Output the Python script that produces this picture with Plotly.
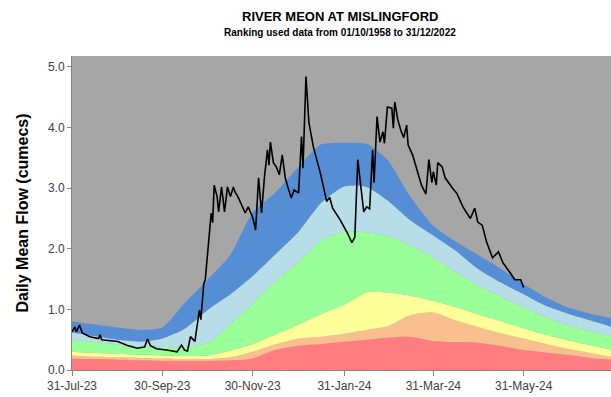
import plotly.graph_objects as go
import pandas as pd

# Percentile band boundaries (cumecs), semi-monthly through the water year
band_dates = [
    "2023-07-31", "2023-08-15", "2023-08-31", "2023-09-15", "2023-09-30",
    "2023-10-15", "2023-10-31", "2023-11-15", "2023-11-30", "2023-12-15",
    "2023-12-31", "2024-01-15", "2024-01-31", "2024-02-15", "2024-02-29",
    "2024-03-15", "2024-03-31", "2024-04-15", "2024-04-30", "2024-05-15",
    "2024-05-31", "2024-06-15", "2024-06-30", "2024-07-15", "2024-07-31",
]
exceptionally_low = [0.19, 0.18, 0.17, 0.16, 0.15, 0.15, 0.15, 0.16, 0.19, 0.33,
                     0.40, 0.43, 0.47, 0.50, 0.53, 0.55, 0.48, 0.46, 0.45, 0.40,
                     0.33, 0.29, 0.25, 0.20, 0.17]
notably_low = [0.24, 0.22, 0.21, 0.20, 0.19, 0.18, 0.18, 0.21, 0.30, 0.42,
               0.52, 0.55, 0.60, 0.66, 0.72, 0.90, 0.95, 0.82, 0.71, 0.61,
               0.52, 0.43, 0.35, 0.28, 0.21]
below_normal = [0.30, 0.28, 0.27, 0.25, 0.24, 0.23, 0.24, 0.32, 0.43, 0.58,
                0.75, 0.92, 1.08, 1.28, 1.28, 1.23, 1.14, 1.04, 0.92, 0.81,
                0.69, 0.58, 0.49, 0.41, 0.33]
normal = [0.50, 0.46, 0.42, 0.39, 0.38, 0.38, 0.45, 0.75, 1.10, 1.45,
          1.78, 2.13, 2.28, 2.27, 2.22, 2.06, 1.85, 1.62, 1.40, 1.22,
          1.03, 0.87, 0.74, 0.64, 0.55]
above_normal = [0.62, 0.56, 0.50, 0.47, 0.52, 0.68, 1.00, 1.25, 1.55, 1.90,
                2.28, 2.75, 3.03, 3.02, 2.80, 2.48, 2.22, 1.97, 1.67, 1.45,
                1.25, 1.06, 0.93, 0.82, 0.70]
notably_high = [0.80, 0.75, 0.70, 0.66, 0.70, 1.10, 1.50, 1.90, 2.60, 2.92,
                3.35, 3.72, 3.75, 3.73, 3.47, 2.88, 2.38, 2.12, 1.90, 1.68,
                1.42, 1.20, 1.03, 0.93, 0.85]

# Daily mean flow record (day offset from 31-Jul-23, cumecs)
flow_days = [0, 2, 3, 5, 7, 12, 18, 19, 20, 26, 31, 37, 44, 49, 51, 53, 57, 64,
             71, 74, 76, 78, 80, 83, 85, 86, 87, 88, 89, 90, 92, 94, 95, 96, 98,
             99, 101, 102, 103, 105, 107, 109, 110, 112, 115, 117, 119, 122, 124,
             126, 128, 130, 132, 133, 134, 136, 138, 140, 142, 144, 146, 148, 150,
             153, 155, 156, 158, 160, 163, 168, 172, 174, 176, 181, 186, 189, 191,
             193, 197, 199, 201, 203, 204, 205, 206, 208, 210, 211, 213, 216, 217,
             218, 220, 222, 224, 226, 227, 230, 233, 236, 239, 241, 243, 244, 246,
             247, 250, 252, 257, 260, 264, 269, 272, 274, 277, 280, 282, 284, 288,
             291, 296, 299, 303, 305]
flow_values = [0.63, 0.71, 0.63, 0.74, 0.61, 0.55, 0.52, 0.58, 0.50, 0.48, 0.47,
               0.41, 0.36, 0.38, 0.51, 0.40, 0.35, 0.33, 0.30, 0.41, 0.33, 0.31,
               0.55, 0.47, 0.77, 0.99, 0.83, 1.16, 1.43, 1.49, 1.98, 2.59, 2.43,
               3.05, 2.86, 2.61, 3.02, 2.75, 2.61, 3.02, 2.86, 3.02, 2.94, 2.86,
               2.69, 2.59, 2.69, 2.52, 2.31, 3.17, 2.59, 3.19, 3.63, 3.38, 3.76,
               3.42, 3.35, 3.22, 3.55, 3.17, 3.00, 2.84, 2.97, 2.92, 3.85, 3.33,
               4.84, 4.08, 3.68, 3.22, 2.78, 2.85, 2.67, 2.48, 2.26, 2.10, 2.19,
               3.47, 2.61, 2.69, 2.66, 3.63, 3.09, 3.68, 4.18, 3.76, 3.93, 3.74,
               4.34, 4.32, 3.99, 4.42, 4.13, 3.96, 3.83, 4.04, 3.71, 3.55, 3.30,
               3.05, 2.90, 3.47, 3.09, 3.27, 3.05, 3.42, 3.35, 3.17, 3.00, 2.91,
               2.69, 2.50, 2.67, 2.44, 2.39, 2.11, 1.98, 1.85, 1.95, 1.77, 1.60,
               1.49, 1.49, 1.36]

tick_dates = ["2023-07-31", "2023-09-30", "2023-11-30", "2024-01-31",
              "2024-03-31", "2024-05-31", "2024-07-31"]
tick_labels = ["31-Jul-23", "30-Sep-23", "30-Nov-23", "31-Jan-24",
               "31-Mar-24", "31-May-24", "31-Jul-24"]
y_ticks = [0, 1, 2, 3, 4, 5]

flow_dates = [pd.Timestamp("2023-07-31") + pd.Timedelta(days=d) for d in flow_days]

bands = [
    (exceptionally_low, "#FF7C80"),
    (notably_low, "#FABF8F"),
    (below_normal, "#FFFF99"),
    (normal, "#99FF99"),
    (above_normal, "#B7DDE8"),
    (notably_high, "#558ED5"),
]

fig = go.Figure()
for i, (vals, col) in enumerate(bands):
    fig.add_trace(go.Scatter(
        x=band_dates, y=vals, mode="lines",
        line=dict(width=0, color=col, shape="spline", smoothing=0.6),
        fill="tozeroy" if i == 0 else "tonexty", fillcolor=col,
        hoverinfo="skip", showlegend=False,
    ))

fig.add_trace(go.Scatter(
    x=flow_dates, y=flow_values, mode="lines",
    line=dict(color="black", width=1.6),
    showlegend=False,
))

font_family = "Liberation Sans, Arial, sans-serif"
plot_left, plot_top, plot_w, plot_h = 72, 56, 539, 314

fig.update_layout(
    width=611, height=397,
    margin=dict(l=plot_left, r=0, t=plot_top, b=27),
    paper_bgcolor="white",
    plot_bgcolor="#A6A6A6",
    font=dict(family=font_family, size=12, color="#404040"),
)

# Titles placed above the plot area
fig.add_annotation(text="<b>RIVER MEON AT MISLINGFORD</b>",
                   xref="paper", yref="paper",
                   x=(340 - plot_left) / plot_w, y=1 + (plot_top - 17) / plot_h,
                   xanchor="center", yanchor="middle", showarrow=False,
                   font=dict(size=13, color="black", family=font_family))
fig.add_annotation(text="<b>Ranking used data from 01/10/1958 to 31/12/2022</b>",
                   xref="paper", yref="paper",
                   x=(340 - plot_left) / plot_w, y=1 + (plot_top - 32) / plot_h,
                   xanchor="center", yanchor="middle", showarrow=False,
                   font=dict(size=10, color="black", family=font_family))

fig.update_xaxes(
    range=["2023-07-31", "2024-07-29"],
    tickvals=tick_dates, ticktext=tick_labels,
    ticks="outside", ticklen=5, tickcolor="#868686",
    showline=True, linecolor="#868686", linewidth=1,
    showgrid=False, zeroline=False,
    tickfont=dict(size=12, color="#404040"),
)
fig.update_yaxes(
    range=[0, 5.18],
    tickvals=y_ticks, tickformat=".1f",
    ticks="outside", ticklen=4, tickcolor="#868686",
    showline=True, linecolor="#868686", linewidth=1,
    showgrid=False, zeroline=False,
    tickfont=dict(size=12, color="#404040"),
    title=dict(text="<b>Daily Mean Flow (cumecs)</b>",
               font=dict(size=16, color="black", family=font_family),
               standoff=15),
)

fig.write_html("out.html")
